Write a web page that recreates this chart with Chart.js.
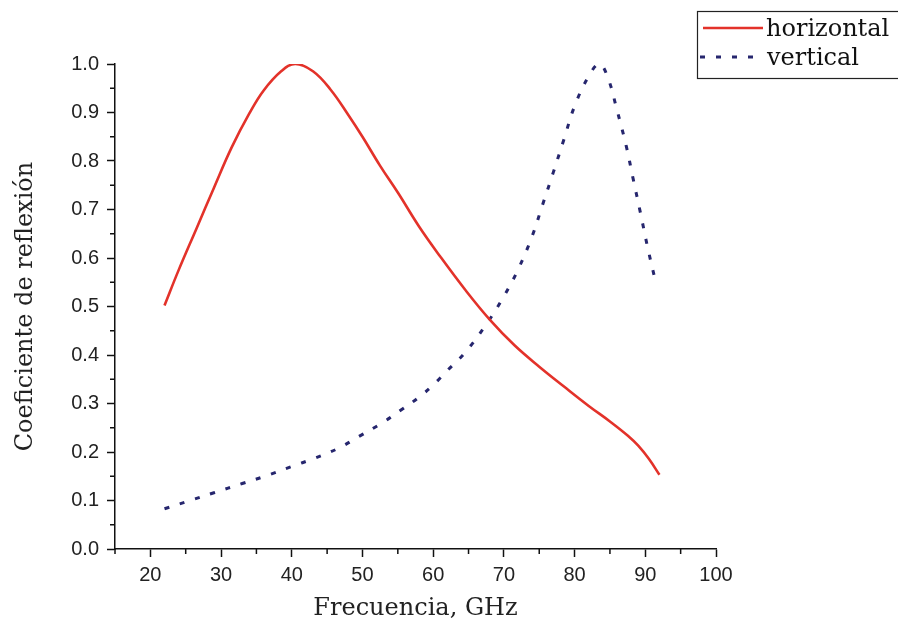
<!DOCTYPE html>
<html>
<head>
<meta charset="utf-8">
<script src="https://cdn.jsdelivr.net/npm/chart.js@4.4.1/dist/chart.umd.min.js"></script>
<style>
  body { margin: 0; background: #fff; }
  #wrap { width: 898px; height: 627px; }
</style>
</head>
<body>
<div id="wrap"><canvas id="reflexion" width="898" height="627"></canvas></div>
<script>
// Frecuencia (GHz) / coeficiente
const horizFreq = [22, 24, 26.5, 29, 31.5, 34, 36, 38.5, 40.5, 43, 45.5, 48, 50, 52.5, 55, 58, 61, 64.5, 68, 71.5, 75, 78.5, 82, 85, 87.5, 89, 90.5, 92];
const horizCoef = [0.502, 0.575, 0.66, 0.745, 0.828, 0.898, 0.945, 0.985, 1.0, 0.985, 0.947, 0.895, 0.85, 0.79, 0.735, 0.665, 0.603, 0.535, 0.473, 0.42, 0.376, 0.335, 0.295, 0.263, 0.234, 0.213, 0.186, 0.153];

const vertFreq = [22, 25, 29, 33, 36, 40, 43, 46.5, 49.5, 53, 55.5, 58, 60, 62, 64.5, 67.5, 70, 72, 74, 75.5, 77, 78.5, 80, 82, 83.5, 84.7, 86, 87.3, 88.3, 89.3, 90.3, 91.5];
const vertCoef = [0.083, 0.097, 0.116, 0.135, 0.149, 0.170, 0.186, 0.207, 0.232, 0.262, 0.287, 0.313, 0.338, 0.368, 0.405, 0.463, 0.521, 0.576, 0.645, 0.711, 0.777, 0.845, 0.913, 0.975, 1.0, 0.972, 0.905, 0.831, 0.762, 0.694, 0.624, 0.548];

const seriesNames = ['horizontal', 'vertical'];
const xTicks = [20, 30, 40, 50, 60, 70, 80, 90, 100];
const xMinor = [15, 25, 35, 45, 55, 65, 75, 85, 95];
const yTicks = [0, 0.1, 0.2, 0.3, 0.4, 0.5, 0.6, 0.7, 0.8, 0.9, 1.0];
const yMinor = [0.05, 0.15, 0.25, 0.35, 0.45, 0.55, 0.65, 0.75, 0.85, 0.95];

const redColor = '#e3322a';
const blueColor = '#26266e';
const serif = "'DejaVu Serif', serif";
const sans = "'Liberation Sans', Arial, sans-serif";

function toPoints(xs, ys) {
    return xs.map((x, i) => ({ x: x, y: ys[i] }));
}

// minor ticks and the boxed legend
const extras = {
    id: 'extras',
    afterDraw(chart) {
        const ctx = chart.ctx;
        const xs = chart.scales.x;
        const ys = chart.scales.y;
        const area = chart.chartArea;
        ctx.save();
        ctx.strokeStyle = '#111';
        ctx.lineWidth = 1.5;
        ctx.beginPath();
        xMinor.forEach(v => {
            const px = xs.getPixelForValue(v);
            ctx.moveTo(px, area.bottom);
            ctx.lineTo(px, area.bottom + 5);
        });
        yMinor.forEach(v => {
            const py = ys.getPixelForValue(v);
            ctx.moveTo(area.left, py);
            ctx.lineTo(area.left - 5, py);
        });
        ctx.stroke();

        // legend
        ctx.lineWidth = 1.2;
        ctx.strokeStyle = '#222';
        ctx.strokeRect(697.5, 11.5, 220, 67);
        const ds = chart.data.datasets;
        ctx.lineWidth = ds[0].borderWidth;
        ctx.strokeStyle = ds[0].borderColor;
        ctx.beginPath();
        ctx.moveTo(703, 28);
        ctx.lineTo(763, 28);
        ctx.stroke();
        ctx.lineWidth = ds[1].borderWidth;
        ctx.strokeStyle = ds[1].borderColor;
        ctx.setLineDash(ds[1].borderDash);
        ctx.beginPath();
        ctx.moveTo(700, 57);
        ctx.lineTo(764, 57);
        ctx.stroke();
        ctx.setLineDash([]);
        ctx.fillStyle = '#111';
        ctx.font = '24px ' + serif;
        ctx.textBaseline = 'alphabetic';
        ctx.fillText(ds[0].label, 766, 36);
        ctx.fillText(ds[1].label, 767, 65);
        ctx.restore();
    }
};

const data = {
    datasets: [{
        label: seriesNames[0],
        data: toPoints(horizFreq, horizCoef),
        borderColor: redColor,
        borderWidth: 2.6,
        tension: 0.4,
        pointRadius: 0,
        fill: false
    }, {
        label: seriesNames[1],
        data: toPoints(vertFreq, vertCoef),
        borderColor: blueColor,
        borderWidth: 3,
        borderDash: [5, 11],
        tension: 0.4,
        pointRadius: 0,
        fill: false
    }]
};

const config = {
    type: 'line',
    data: data,
    plugins: [extras],
    options: {
        responsive: false,
        animation: false,
        layout: {
            padding: { top: 64, right: 182, bottom: 0, left: 0 }
        },
        plugins: {
            legend: { display: false },
            tooltip: { enabled: false }
        },
        scales: {
            x: {
                type: 'linear',
                min: 15,
                max: 100,
                afterBuildTicks: axis => { axis.ticks = xTicks.map(v => ({ value: v })); },
                afterFit: scale => { scale.height = 78; },
                border: { display: true, color: '#111', width: 1.5 },
                grid: { drawOnChartArea: false, drawTicks: true, tickLength: 8, tickColor: '#111', tickWidth: 1.5 },
                ticks: {
                    color: '#222',
                    padding: 6,
                    maxRotation: 0,
                    font: { family: sans, size: 20 }
                },
                title: {
                    display: true,
                    text: 'Frecuencia, GHz',
                    color: '#222',
                    padding: { top: 4, bottom: 4 },
                    font: { family: serif, size: 24 }
                }
            },
            y: {
                type: 'linear',
                min: 0,
                max: 1,
                afterBuildTicks: axis => { axis.ticks = yTicks.map(v => ({ value: v })); },
                afterFit: scale => { scale.width = 115; },
                border: { display: true, color: '#111', width: 1.5 },
                grid: { drawOnChartArea: false, drawTicks: true, tickLength: 8, tickColor: '#111', tickWidth: 1.5 },
                ticks: {
                    color: '#222',
                    padding: 8,
                    font: { family: sans, size: 20 },
                    callback: v => v.toFixed(1)
                },
                title: {
                    display: true,
                    text: 'Coeficiente de reflexión',
                    color: '#222',
                    padding: { top: 11, bottom: 4 },
                    font: { family: serif, size: 24 }
                }
            }
        }
    }
};

window.onload = () => {
    new Chart(document.getElementById('reflexion'), config);
};
</script>
</body>
</html>
